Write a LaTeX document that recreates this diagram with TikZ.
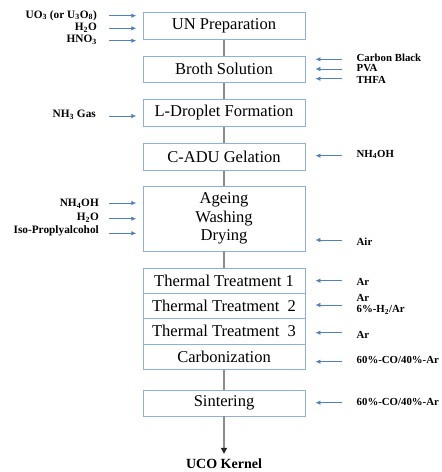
\documentclass[tikz,border=0pt]{standalone}
\usepackage{fontspec}
\setmainfont{Liberation Serif}
\usetikzlibrary{arrows.meta}
\definecolor{boxline}{HTML}{8EB1DC}
\definecolor{feedblue}{HTML}{4F81BD}
\definecolor{linkgray}{HTML}{8C8C8C}
\tikzset{
  stage/.style={draw=boxline, line width=0.9pt, minimum width=162pt, inner sep=0pt,
    font=\fontsize{16.5}{18.5}\selectfont, align=center},
  link/.style={draw=linkgray, line width=1.6pt},
  feed/.style={draw=feedblue, line width=0.7pt, -{Latex[length=5pt,width=4.5pt]}},
  lbl/.style={font=\fontsize{11.3}{12}\selectfont\bfseries, inner sep=0pt, align=left},
  lbr/.style={lbl, anchor=east, align=right},
  lbw/.style={lbl, anchor=west, font=\fontsize{10.8}{12}\selectfont\bfseries}
}
\newcommand{\sbs}[1]{\textsubscript{#1}}
\begin{document}
\begin{tikzpicture}[x=1pt, y=-1pt]
\useasboundingbox (0,0) rectangle (442,472);

% process stages
\node[stage, minimum height=27pt]   (un)    at (224,25.8)  {UN Preparation};
\node[stage, minimum height=26pt]   (broth) at (224,69.3)  {Broth Solution};
\node[stage, minimum height=27.4pt] (drop)  at (224,113)   {L-Droplet Formation};
\node[stage, minimum height=26.7pt] (gel)   at (224,156.7) {C-ADU Gelation};
\node[stage, minimum height=64.3pt] (age)   at (224,218.8) {Ageing\\Washing\\Drying};
\node[stage, minimum height=25pt]   (tt1)   at (224,280.8) {Thermal Treatment 1};
\node[stage, minimum height=25pt]   (tt2)   at (224,305.8) {Thermal Treatment~~2};
\node[stage, minimum height=25.7pt] (tt3)   at (224,331.2) {Thermal Treatment~~3};
\node[stage, minimum height=25.3pt] (carb)  at (224,356.7) {Carbonization};
\node[stage, minimum height=26pt]   (sint)  at (224,403)   {Sintering};
\node[font=\fontsize{14}{16}\selectfont\bfseries, inner sep=0pt] (uco) at (224,464) {UCO Kernel};

% main flow
\draw[link] (un) -- (broth);
\draw[link] (broth) -- (drop);
\draw[link] (drop) -- (gel);
\draw[link] (gel) -- (age);
\draw[link] (age) -- (tt1);
\draw[link] (carb) -- (sint);
\draw[link, -{Triangle[length=6pt,width=6pt,color=black!85]}, shorten >=5pt] (sint) -- (uco);

% feeds from the left
\coordinate (f1) at (109,15.7);
\coordinate (f2) at (109,28.3);
\coordinate (f3) at (109,40.7);
\coordinate (f4) at (109,116);
\coordinate (f5) at (109,203);
\coordinate (f6) at (109,218.7);
\coordinate (f7) at (109,233.3);
\foreach \c in {f1,f2,f3,f4,f5,f6,f7}
  \draw[feed, shorten >=6.3pt] (\c) -- (\c -| un.west);

\node[lbr] (l1) at (97,15.5) {UO\sbs{3} (or U\sbs{3}O\sbs{8})};
\node[lbr] (l2) at (97,27.5) {H\sbs{2}O};
\node[lbr] (l3) at (97,40)   {HNO\sbs{3}};
\node[lbr] (l4) at (96,114.5) {NH\sbs{3} Gas};
\node[lbr] (l5) at (99,204)  {NH\sbs{4}OH};
\node[lbr] (l6) at (99,217.5) {H\sbs{2}O};
\node[lbr] (l7) at (99,231) {Iso-Proplyalcohol};

% feeds from the right
\coordinate (r1) at (342,59.3);
\coordinate (r2) at (342,69);
\coordinate (r3) at (342,78.7);
\coordinate (r4) at (342,155.7);
\coordinate (r5) at (342,240);
\coordinate (r6) at (342,280.7);
\coordinate (r7) at (342,305);
\coordinate (r8) at (342,332.7);
\coordinate (r9) at (342,361.7);
\coordinate (r10) at (342,402.7);
\foreach \c in {r1,r2,r3,r4,r5,r6,r7,r8,r9,r10}
  \draw[feed, shorten >=10pt] (\c) -- (\c -| un.east);

\node[lbw] (m1) at (356.5,58)   {Carbon Black};
\node[lbw] (m2) at (356.5,68.5) {PVA};
\node[lbw] (m3) at (356.5,79.5) {THFA};
\node[lbw] (m4) at (356.5,154.5) {NH\sbs{4}OH};
\node[lbw] (m5) at (356.5,241.5) {Air};
\node[lbw] (m6) at (356.5,281.7) {Ar};
\node[lbw] (m7) at (356.5,298)  {Ar};
\node[lbw] (m8) at (356.5,310) {6\%-H\sbs{2}/Ar};
\node[lbw] (m9) at (356.5,335)  {Ar};
\node[lbw] (m10) at (356.5,360) {60\%-CO/40\%-Ar};
\node[lbw] (m11) at (356.5,402) {60\%-CO/40\%-Ar};
\end{tikzpicture}
\end{document}
